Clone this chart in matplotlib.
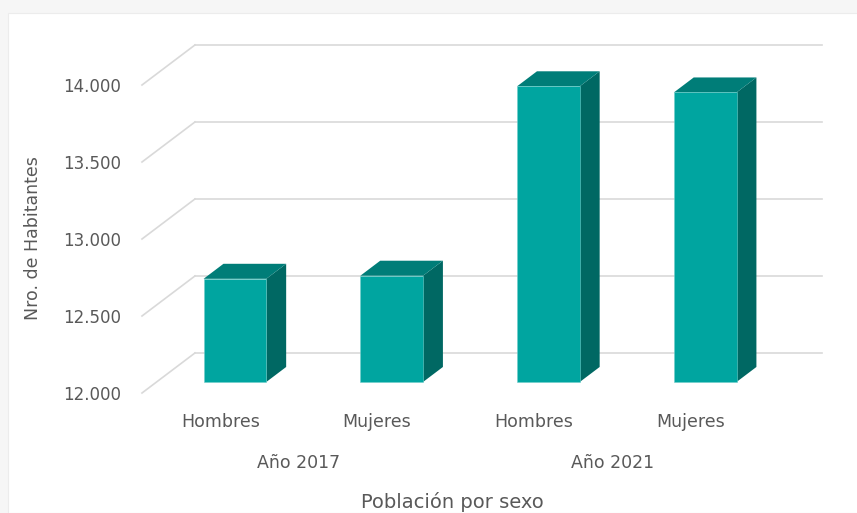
import numpy as np
import matplotlib
matplotlib.use("Agg")
import matplotlib.pyplot as plt
from matplotlib.patches import Polygon, Rectangle
from matplotlib.transforms import blended_transform_factory

#Data
sexes = ["Hombres", "Mujeres", "Hombres", "Mujeres"]
years = ["Año 2017", "Año 2021"]
habitantes = [12670, 12690, 13920, 13880]
y_ticks = [12000, 12500, 13000, 13500, 14000]

#Look
TEXT_COL = "#595959"
GRID_COL = "#d9d9d9"
FRONT_COL = "#00a5a0"
TOP_COL = "#007d78"
SIDE_COL = "#006863"

#Oblique 3D offsets (data units of the front plane)
DEPTH_X = 0.338
DEPTH_Y = 260.0
BAR_D0 = 0.275   #bar front face depth fraction
BAR_D1 = 0.65    #bar back face depth fraction
BAR_W = 0.40
BASE = y_ticks[0]

W, H = 857, 513
fig = plt.figure(figsize=(W / 100, H / 100), dpi=100)
fig.patch.set_facecolor("#f6f6f6")
fig.add_artist(Rectangle((8 / W, 0), 1, (H - 13) / H, transform=fig.transFigure,
                         facecolor="white", edgecolor="#ececec", lw=0.8, zorder=-5))

#Axes box = front plane of the 3D chart
ax = fig.add_axes([142 / W, (H - 393) / H, (769 - 142) / W, (393 - 85) / H])
ax.set_facecolor("none")
ax.set_xlim(-0.5, 3.5)
ax.set_ylim(BASE, y_ticks[-1])
for s in ax.spines.values():
    s.set_visible(False)

#Gridlines: side wall diagonals + back wall horizontals
x0, x1 = ax.get_xlim()
for v in y_ticks:
    ax.plot([x0, x0 + DEPTH_X], [v, v + DEPTH_Y], color=GRID_COL, lw=1.2,
            clip_on=False, zorder=1)
    ax.plot([x0 + DEPTH_X, x1 + DEPTH_X], [v + DEPTH_Y, v + DEPTH_Y], color=GRID_COL,
            lw=1.2, clip_on=False, zorder=1)

#Bars
xs = np.arange(len(habitantes))
vals = np.array(habitantes, dtype=float)
fx = xs + BAR_D0 * DEPTH_X
fb = BASE + BAR_D0 * DEPTH_Y
ax.bar(fx, vals - BASE, bottom=fb, width=BAR_W, color=FRONT_COL,
       edgecolor="#6fcfcb", lw=0.4, clip_on=False, zorder=3)
ddx = (BAR_D1 - BAR_D0) * DEPTH_X
ddy = (BAR_D1 - BAR_D0) * DEPTH_Y
for cx, v in zip(fx, vals):
    xl, xr = cx - BAR_W / 2, cx + BAR_W / 2
    top = v + BAR_D0 * DEPTH_Y
    side = Polygon([(xr, fb), (xr + ddx, fb + ddy), (xr + ddx, top + ddy), (xr, top)],
                   closed=True, facecolor=SIDE_COL, edgecolor="none", clip_on=False, zorder=2)
    cap = Polygon([(xl, top), (xr, top), (xr + ddx, top + ddy), (xl + ddx, top + ddy)],
                  closed=True, facecolor=TOP_COL, edgecolor="none", clip_on=False, zorder=2)
    ax.add_patch(side)
    ax.add_patch(cap)

#Y axis labels
ax.set_yticks(y_ticks, [f"{v:,}".replace(",", ".") for v in y_ticks])
ax.tick_params(axis="y", length=0, pad=15, labelsize=12, labelcolor=TEXT_COL)
ax.set_xticks([])
ax.text(-0.174, 0.503, "Nro. de Habitantes", transform=ax.transAxes, rotation=90,
        ha="center", va="center", fontsize=12.5, color=TEXT_COL)

#Category labels (two levels) + axis title, on the front edge of the floor
trans = blended_transform_factory(ax.transData, ax.transAxes)
for lx, lab in zip(xs, sexes):
    ax.text(lx, -0.094, lab, transform=trans, ha="center", va="center",
            fontsize=12.5, color=TEXT_COL)
for k, yr in enumerate(years):
    mid = (xs[2 * k] + xs[2 * k + 1]) / 2
    ax.text(mid, -0.227, yr, transform=trans, ha="center", va="center",
            fontsize=12.5, color=TEXT_COL)
ax.text(xs.mean() - 0.02, -0.372, "Población por sexo", transform=trans, ha="center",
        va="baseline", fontsize=14, color=TEXT_COL)

fig.savefig("out.png", dpi=100)
